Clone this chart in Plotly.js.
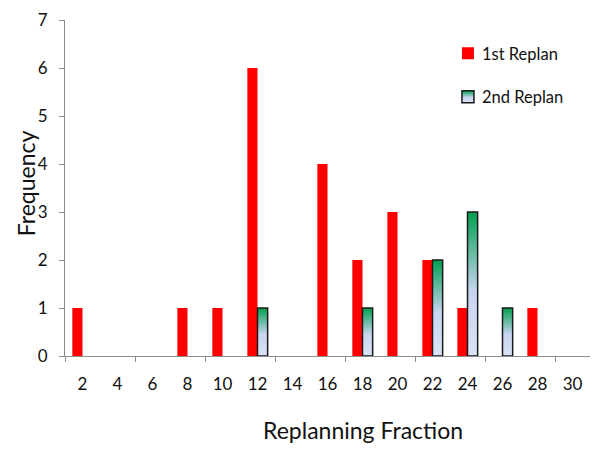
<!DOCTYPE html>
<html>
<head>
<meta charset="utf-8">
<script src="https://cdn.plot.ly/plotly-3.0.1.min.js"></script>
<style>html,body{margin:0;padding:0;background:#fff;}#chart{width:600px;height:450px;}</style>
</head>
<body>
<div id="chart"></div>
<script>
const categories = ['2','4','6','8','10','12','14','16','18','20','22','24','26','28','30'];
const firstReplan = [1,0,0,1,1,6,0,4,2,3,2,1,0,1,0];
const secondReplan = [0,0,0,0,0,1,0,0,1,0,2,3,1,0,0];
const seriesNames = ['1st Replan','2nd Replan'];
const xTitle = 'Replanning Fraction';
const yTitle = 'Frequency';

const idx = categories.map((c,i)=>i);
const boundaryTicks = idx.filter(i=>i%2===0).map(i=>i-0.5);
// zero-height bars are not drawn (no outline at the baseline)
const firstY = firstReplan.map(v=>v===0?null:v);
const secondY = secondReplan.map(v=>v===0?null:v);

const FONT = 'Lato, "Open Sans", sans-serif';

const traces = [
  {type:'bar', x:idx, y:firstY, name:seriesNames[0], width:0.29, offset:-0.29,
   marker:{color:'#ff0000', line:{width:0}}, legendgroup:'a'},
  {type:'bar', x:idx, y:secondY, name:seriesNames[1], width:0.29, offset:0,
   marker:{color:'#cdd9f0', line:{width:1.5, color:'#1a1a1a'}}, legendgroup:'b'}
];

const layout = {
  width:600, height:450,
  margin:{l:65, r:10, t:20, b:94},
  paper_bgcolor:'#fff', plot_bgcolor:'#fff',
  font:{family:FONT, color:'#111', size:17},
  barmode:'overlay',
  showlegend:true,
  legend:{x:0.718, xanchor:'left', y:0.952, yanchor:'top', font:{size:16.5, family:FONT},
          tracegroupgap:19, traceorder:'grouped', bgcolor:'rgba(0,0,0,0)'},
  xaxis:{type:'linear', range:[-0.5,14.5], tickmode:'array', tickvals:idx, ticktext:categories,
         ticks:'', showgrid:false, zeroline:false, showline:true, linecolor:'#8c8c8c', linewidth:1,
         ticklabelstandoff:13, tickfont:{size:17, family:FONT},
         minor:{tickmode:'array', tickvals:boundaryTicks, ticks:'outside', ticklen:5, tickcolor:'#8c8c8c', showgrid:false}},
  yaxis:{range:[0,7], dtick:1, ticks:'outside', ticklen:5, tickcolor:'#8c8c8c',
         showgrid:false, zeroline:false, showline:true, linecolor:'#8c8c8c', linewidth:1,
         ticklabelstandoff:8, tickfont:{size:17, family:FONT}},
  annotations:[
    {text:xTitle, xref:'paper', yref:'paper', x:0.568, y:-0.22,
     xanchor:'center', yanchor:'middle', showarrow:false, font:{size:23, family:FONT}},
    {text:yTitle, xref:'paper', yref:'paper', x:-0.075, y:0.513, textangle:-90,
     xanchor:'center', yanchor:'middle', showarrow:false, font:{size:23, family:FONT}}
  ]
};

const gd = document.getElementById('chart');
Plotly.newPlot(gd, traces, layout, {displayModeBar:false, staticPlot:true}).then(()=>{
  const svg = gd.querySelector('svg.main-svg');
  const ns = 'http://www.w3.org/2000/svg';
  let defs = svg.querySelector('defs');
  if(!defs){defs = document.createElementNS(ns,'defs'); svg.insertBefore(defs, svg.firstChild);}
  const grad = document.createElementNS(ns,'linearGradient');
  grad.setAttribute('id','replanGrad');
  grad.setAttribute('x1','0'); grad.setAttribute('y1','0');
  grad.setAttribute('x2','0'); grad.setAttribute('y2','1');
  [['0','#00a050'],['0.55','#c8d4f0'],['1','#dae3f6']].forEach(([o,c])=>{
    const s = document.createElementNS(ns,'stop');
    s.setAttribute('offset',o); s.setAttribute('stop-color',c);
    grad.appendChild(s);
  });
  defs.appendChild(grad);
  const barTraces = gd.querySelectorAll('.barlayer .trace');
  if(barTraces[1]) barTraces[1].querySelectorAll('path').forEach(p=>{p.style.fill='url(#replanGrad)';});
  const legTraces = gd.querySelectorAll('.legend .traces');
  legTraces.forEach((t,i)=>{
    const lp = t.querySelector('.legendpoints');
    if(lp) lp.setAttribute('transform','translate(6,0)');
    if(i===1) t.querySelectorAll('.legendpoints path').forEach(p=>{p.style.fill='url(#replanGrad)';});
  });
});
</script>
</body>
</html>
